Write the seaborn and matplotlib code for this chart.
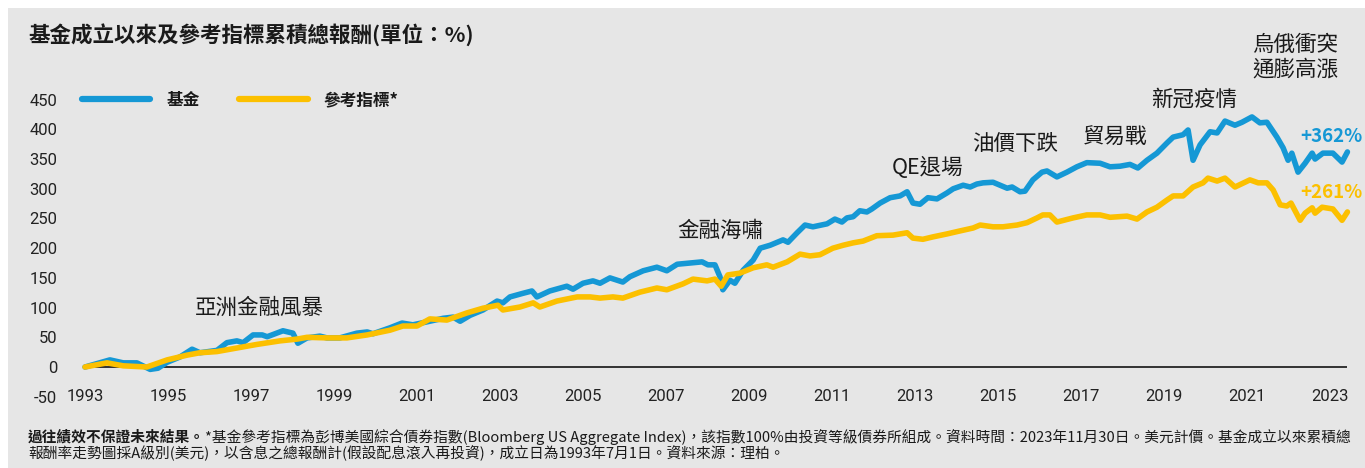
import matplotlib
matplotlib.use("Agg")
import matplotlib.pyplot as plt
import seaborn as sns
import pandas as pd
from matplotlib.patches import Rectangle

# ---------------- data ----------------
fund_years = [1993.50, 1994.10, 1994.42, 1994.75, 1995.07, 1995.26, 1995.48, 1995.79, 1996.08, 1996.27,
              1996.68, 1996.92, 1997.16, 1997.31, 1997.55, 1997.77, 1997.89, 1998.27, 1998.51, 1998.63,
              1998.85, 1999.16, 1999.33, 1999.64, 2000.05, 2000.30, 2000.44, 2000.85, 2001.14, 2001.40,
              2001.74, 2002.13, 2002.37, 2002.54, 2002.78, 2003.09, 2003.43, 2003.57, 2003.74, 2004.05,
              2004.27, 2004.39, 2004.70, 2005.11, 2005.26, 2005.50, 2005.74, 2005.91, 2006.15, 2006.46,
              2006.63, 2006.95, 2007.28, 2007.52, 2007.77, 2008.08, 2008.37, 2008.51, 2008.68, 2008.80,
              2008.87, 2009.04, 2009.16, 2009.36, 2009.60, 2009.77, 2010.01, 2010.32, 2010.44, 2010.66,
              2010.85, 2011.04, 2011.38, 2011.57, 2011.74, 2011.86, 2012.01, 2012.17, 2012.34, 2012.46,
              2012.66, 2012.90, 2013.14, 2013.31, 2013.45, 2013.62, 2013.81, 2014.03, 2014.27, 2014.42,
              2014.66, 2014.83, 2014.99, 2015.14, 2015.38, 2015.55, 2015.72, 2015.84, 2016.03, 2016.15,
              2016.34, 2016.56, 2016.68, 2016.92, 2017.16, 2017.40, 2017.64, 2017.96, 2018.20, 2018.44,
              2018.68, 2018.87, 2019.09, 2019.33, 2019.57, 2019.72, 2019.96, 2020.08, 2020.20, 2020.37,
              2020.61, 2020.78, 2020.97, 2021.21, 2021.38, 2021.62, 2021.81, 2021.98, 2022.22, 2022.37,
              2022.49, 2022.58, 2022.73, 2022.90, 2023.07, 2023.14, 2023.33, 2023.57, 2023.79, 2023.92]
fund_values = [0, 12, 7, 7, -4, -2, 8, 17, 30, 24,
               28, 41, 44, 41, 54, 54, 51, 61, 57, 40,
               49, 52, 49, 49, 57, 59, 56, 66, 74, 71,
               76, 82, 84, 77, 87, 96, 111, 108, 118, 124,
               128, 118, 128, 136, 131, 141, 145, 141, 150, 143,
               152, 162, 168, 162, 173, 175, 177, 172, 172, 152,
               130, 146, 141, 163, 180, 200, 205, 214, 210, 226,
               239, 236, 241, 249, 244, 251, 253, 263, 261, 266,
               276, 285, 288, 295, 276, 274, 285, 283, 293, 300,
               306, 303, 308, 310, 311, 306, 301, 303, 295, 296,
               315, 328, 330, 320, 328, 337, 344, 343, 337, 338,
               341, 335, 348, 360, 377, 387, 391, 399, 348, 374,
               396, 394, 414, 407, 412, 421, 411, 412, 387, 369,
               348, 360, 328, 343, 360, 350, 360, 360, 345, 362]

bench_years = [1993.50, 1994.03, 1994.42, 1994.99, 1995.48, 1995.96, 1996.27, 1996.68, 1997.16, 1997.64,
               1998.20, 1998.61, 1998.85, 1999.33, 1999.81, 2000.30, 2000.85, 2001.16, 2001.50, 2001.81,
               2002.22, 2002.70, 2003.09, 2003.45, 2003.57, 2003.98, 2004.30, 2004.46, 2004.87, 2005.36,
               2005.67, 2005.91, 2006.22, 2006.46, 2006.87, 2007.28, 2007.52, 2007.91, 2008.15, 2008.49,
               2008.68, 2008.83, 2008.99, 2009.28, 2009.60, 2009.93, 2010.08, 2010.42, 2010.73, 2010.97,
               2011.21, 2011.52, 2011.77, 2012.01, 2012.25, 2012.58, 2012.97, 2013.31, 2013.45, 2013.69,
               2013.93, 2014.27, 2014.58, 2014.90, 2015.07, 2015.38, 2015.62, 2015.96, 2016.20, 2016.44,
               2016.58, 2016.75, 2016.92, 2017.31, 2017.64, 2017.96, 2018.20, 2018.61, 2018.85, 2019.09,
               2019.33, 2019.57, 2019.72, 2019.96, 2020.20, 2020.44, 2020.56, 2020.78, 2020.97, 2021.21,
               2021.57, 2021.77, 2021.98, 2022.13, 2022.30, 2022.46, 2022.56, 2022.78, 2022.90, 2023.07,
               2023.14, 2023.31, 2023.57, 2023.79, 2023.92]
bench_values = [0, 7, 2, 0, 12, 20, 24, 26, 32, 38,
                44, 47, 50, 49, 49, 54, 62, 69, 69, 81,
                79, 91, 99, 104, 96, 101, 108, 101, 111, 118,
                118, 116, 118, 116, 126, 133, 130, 140, 148, 145,
                148, 136, 155, 158, 167, 172, 168, 177, 190, 187,
                189, 200, 205, 209, 212, 221, 222, 226, 217, 215,
                219, 224, 229, 234, 239, 236, 236, 239, 243, 251,
                256, 256, 244, 251, 256, 256, 252, 254, 249, 261,
                269, 281, 288, 288, 303, 310, 318, 313, 318, 303,
                315, 310, 310, 298, 273, 271, 276, 247, 259, 268,
                259, 269, 266, 247, 261]

series_names = ["基金", "參考指標*"]
tick_years = list(range(1993, 2024, 2))
y_ticks = list(range(-50, 451, 50))

title = "基金成立以來及參考指標累積總報酬(單位：%)"
events = ["亞洲金融風暴", "金融海嘯", "QE退場", "油價下跌", "貿易戰", "新冠疫情", "烏俄衝突\n通膨高漲"]
end_labels = ["+362%", "+261%"]
note_bold = "過往績效不保證未來結果。"
note_1 = "*基金參考指標為彭博美國綜合債券指數(Bloomberg US Aggregate Index)，該指數100%由投資等級債券所組成。資料時間：2023年11月30日。美元計價。基金成立以來累積總"
note_2 = "報酬率走勢圖採A級別(美元)，以含息之總報酬計(假設配息滾入再投資)，成立日為1993年7月1日。資料來源：理柏。"

# ---------------- style ----------------
sns.set_style("white")
plt.rcParams['font.family'] = ['Noto Sans CJK TC', 'DejaVu Sans']
BLUE = "#1598d5"
YELLOW = "#fcc000"
BG = "#e6e6e6"
TXT = "#1a1a1a"

W, H = 1365, 468
fig = plt.figure(figsize=(W / 100, H / 100), dpi=100, facecolor="white")
fig.patches.append(Rectangle((8 / W, 0), 1 - 8 / W, 1 - 8 / H, transform=fig.transFigure,
                             facecolor=BG, edgecolor="none", zorder=-10))

# axes placement (pixel geometry)
L_px, R_px, T_px, B_px = 62, 1360, 87.8, 397.9
ax = fig.add_axes([L_px / W, 1 - B_px / H, (R_px - L_px) / W, (B_px - T_px) / H])
ax.set_facecolor("none")

fund_df = pd.DataFrame({"year": fund_years, "value": fund_values})
bench_df = pd.DataFrame({"year": bench_years, "value": bench_values})

ax.hlines(0, fund_years[0], fund_years[-1], color="#333333", lw=1.4, zorder=1)
sns.lineplot(data=fund_df, x="year", y="value", ax=ax, color=BLUE, lw=4.0,
             label=series_names[0], zorder=3)
sns.lineplot(data=bench_df, x="year", y="value", ax=ax, color=YELLOW, lw=4.0,
             label=series_names[1], zorder=4)
for ln in ax.lines:
    ln.set_solid_capstyle("round")
    ln.set_solid_joinstyle("round")

ax.set_xlim(1993.5 - 23 / 41.5, 1993.5 + 1275 / 41.5)
ax.set_ylim(-52, 470)
ax.set_xticks([y + 0.5 for y in tick_years])
ax.set_xticklabels([str(y) for y in tick_years])
ax.set_yticks(y_ticks)
ax.set_yticklabels([str(v) for v in y_ticks])
ax.tick_params(axis="both", length=0, labelsize=12, labelcolor="#222222")
ax.tick_params(axis="x", pad=-6.5)
ax.tick_params(axis="y", pad=3.5)
for lab in ax.get_xticklabels() + ax.get_yticklabels():
    lab.set_family(['Roboto', 'DejaVu Sans'])
    lab.set_fontweight("normal")
for s in ax.spines.values():
    s.set_visible(False)
ax.set_xlabel("")
ax.set_ylabel("")

leg = ax.legend(loc="center left", bbox_to_anchor=((82 - L_px) / (R_px - L_px), (B_px - 100) / (B_px - T_px)),
                ncol=2, frameon=False, borderaxespad=0, borderpad=0, handlelength=4.1,
                handletextpad=0.95, columnspacing=2.4,
                prop={"family": ['Noto Sans CJK TC', 'DejaVu Sans'], "weight": "bold", "size": 12})
for h in leg.legend_handles:
    h.set_linewidth(4.5)
    h.set_solid_capstyle("round")
for t in leg.get_texts():
    t.set_color(TXT)


def px2data(x, y):
    return 1993.5 + (x - 85) / 41.5, (367 - y) / 0.594


ev_px = [(259, 308), (720, 231), (928, 168), (1015, 145), (1115, 137), (1194, 100), (1295, 57)]
for txt, (px, py) in zip(events, ev_px):
    dx, dy = px2data(px, py)
    ax.text(dx, dy, txt, ha="center", va="center", fontsize=15.5, color=TXT,
            fontweight="medium", linespacing=1.15, clip_on=False)

for txt, col, (px, py) in zip(end_labels, [BLUE, YELLOW], [(1331, 137), (1331, 193)]):
    dx, dy = px2data(px, py)
    ax.text(dx, dy, txt, ha="center", va="center", fontsize=13.5, color=col,
            fontweight="bold", clip_on=False)

fig.text(28 / W, 1 - 35 / H, title, ha="left", va="center", fontsize=15.5,
         fontweight="bold", color=TXT)

# footnote
r = fig.canvas.get_renderer()
t1 = fig.text(28 / W, 1 - 437 / H, note_bold, ha="left", va="center", fontsize=10.6,
              fontweight="bold", color=TXT)
bb = t1.get_window_extent(renderer=r)
fig.text(bb.x1 / W, 1 - 437 / H, note_1, ha="left", va="center", fontsize=10.6, color=TXT)
fig.text(28 / W, 1 - 453 / H, note_2, ha="left", va="center", fontsize=10.6, color=TXT)

fig.savefig("out.png", dpi=100, facecolor="white")
